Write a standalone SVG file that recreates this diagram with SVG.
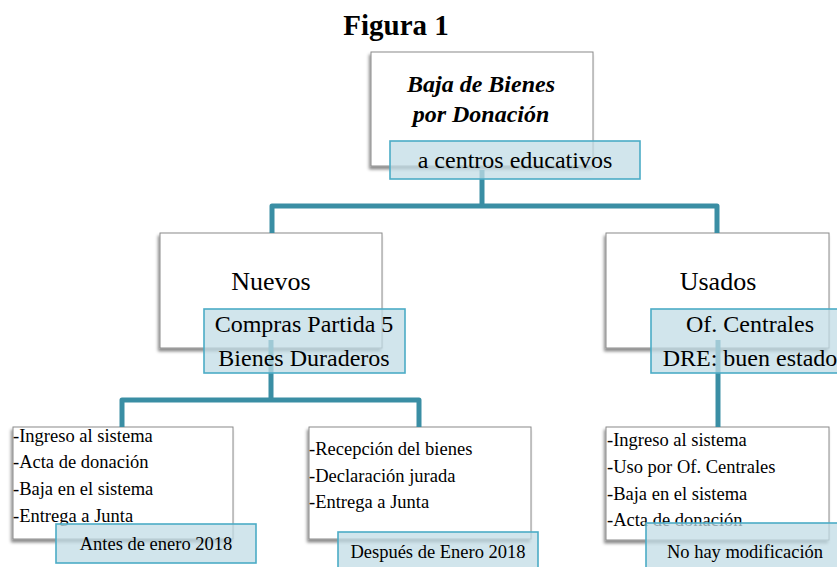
<svg xmlns="http://www.w3.org/2000/svg" width="837" height="567" viewBox="0 0 837 567">
<style>
.box{fill:#ffffff;stroke:#8a8a8a;stroke-width:1;filter:url(#sh)}
.lbl{fill:#c2dce5;fill-opacity:0.75;stroke:#4bacc6;stroke-width:1.6}
.con{fill:none;stroke:#3a8ea4;stroke-width:5;stroke-linejoin:round}
text{font-family:'Liberation Serif','Times New Roman',serif;fill:#000}
.big{font-size:26px;text-anchor:middle}
.mid{font-size:24px;text-anchor:middle}
.sm{font-size:18.5px}
.smc{font-size:18.5px;text-anchor:middle}
</style>
<defs>
<filter id="sh" x="-10%" y="-10%" width="120%" height="130%">
<feDropShadow dx="-1.5" dy="3" stdDeviation="1.8" flood-color="#000" flood-opacity="0.45"/>
</filter>
</defs>
<rect width="837" height="567" fill="#ffffff"/>
<text x="396" y="35" font-size="29" font-weight="bold" text-anchor="middle">Figura 1</text>

<g id="root">
<rect class="box" x="371" y="52" width="222" height="114"/>
<text x="481" y="92" font-size="24" font-weight="bold" font-style="italic" text-anchor="middle">Baja de Bienes</text>
<text x="481" y="122" font-size="24" font-weight="bold" font-style="italic" text-anchor="middle">por Donación</text>
</g>
<g id="nuevos">
<rect class="box" x="160" y="233" width="222" height="115"/>
<text class="big" x="271" y="290">Nuevos</text>
</g>
<g id="usados">
<rect class="box" x="606" y="233" width="223" height="115"/>
<text class="big" x="718" y="290">Usados</text>
</g>
<g id="antes">
<rect class="box" x="13" y="427" width="220" height="112"/>
<text class="sm" x="13" y="442">-Ingreso al sistema</text>
<text class="sm" x="13" y="468">-Acta de donación</text>
<text class="sm" x="13" y="495">-Baja en el sistema</text>
<text class="sm" x="13" y="522">-Entrega a Junta</text>
</g>
<g id="despues">
<rect class="box" x="309" y="427" width="222" height="112"/>
<text class="sm" x="309" y="455">-Recepción del bienes</text>
<text class="sm" x="309" y="482">-Declaración jurada</text>
<text class="sm" x="309" y="508">-Entrega a Junta</text>
</g>
<g id="nomod">
<rect class="box" x="606" y="427" width="223" height="113"/>
<text class="sm" x="607" y="446">-Ingreso al sistema</text>
<text class="sm" x="607" y="473">-Uso por Of. Centrales</text>
<text class="sm" x="607" y="500">-Baja en el sistema</text>
<text class="sm" x="607" y="526">-Acta de donación</text>
</g>

<g id="connectors">
<path class="con" d="M482 170 V206 M272 233 V206 H717 V233"/>
<path class="con" d="M271 340 V400 M122 427 V400 H419 V427"/>
<path class="con" d="M718 340 V427"/>
</g>

<g id="label-root">
<rect class="lbl" x="390" y="141" width="250" height="38"/>
<text x="515" y="168" font-size="24" text-anchor="middle">a centros educativos</text>
</g>
<g id="label-nuevos">
<rect class="lbl" x="204" y="309" width="201" height="64"/>
<text class="mid" x="304" y="332">Compras Partida 5</text>
<text class="mid" x="304" y="366">Bienes Duraderos</text>
</g>
<g id="label-usados">
<rect class="lbl" x="651" y="309" width="201" height="64"/>
<text class="mid" x="750" y="332">Of. Centrales</text>
<text class="mid" x="750" y="366">DRE: buen estado</text>
</g>
<g id="label-antes">
<rect class="lbl" x="56" y="524" width="200" height="39"/>
<text class="smc" x="156" y="550">Antes de enero 2018</text>
</g>
<g id="label-despues">
<rect class="lbl" x="338" y="532" width="200" height="40"/>
<text class="smc" x="438" y="558">Después de Enero 2018</text>
</g>
<g id="label-nomod">
<rect class="lbl" x="646" y="523" width="200" height="49"/>
<text class="smc" x="745" y="558">No hay modificación</text>
</g>
</svg>
